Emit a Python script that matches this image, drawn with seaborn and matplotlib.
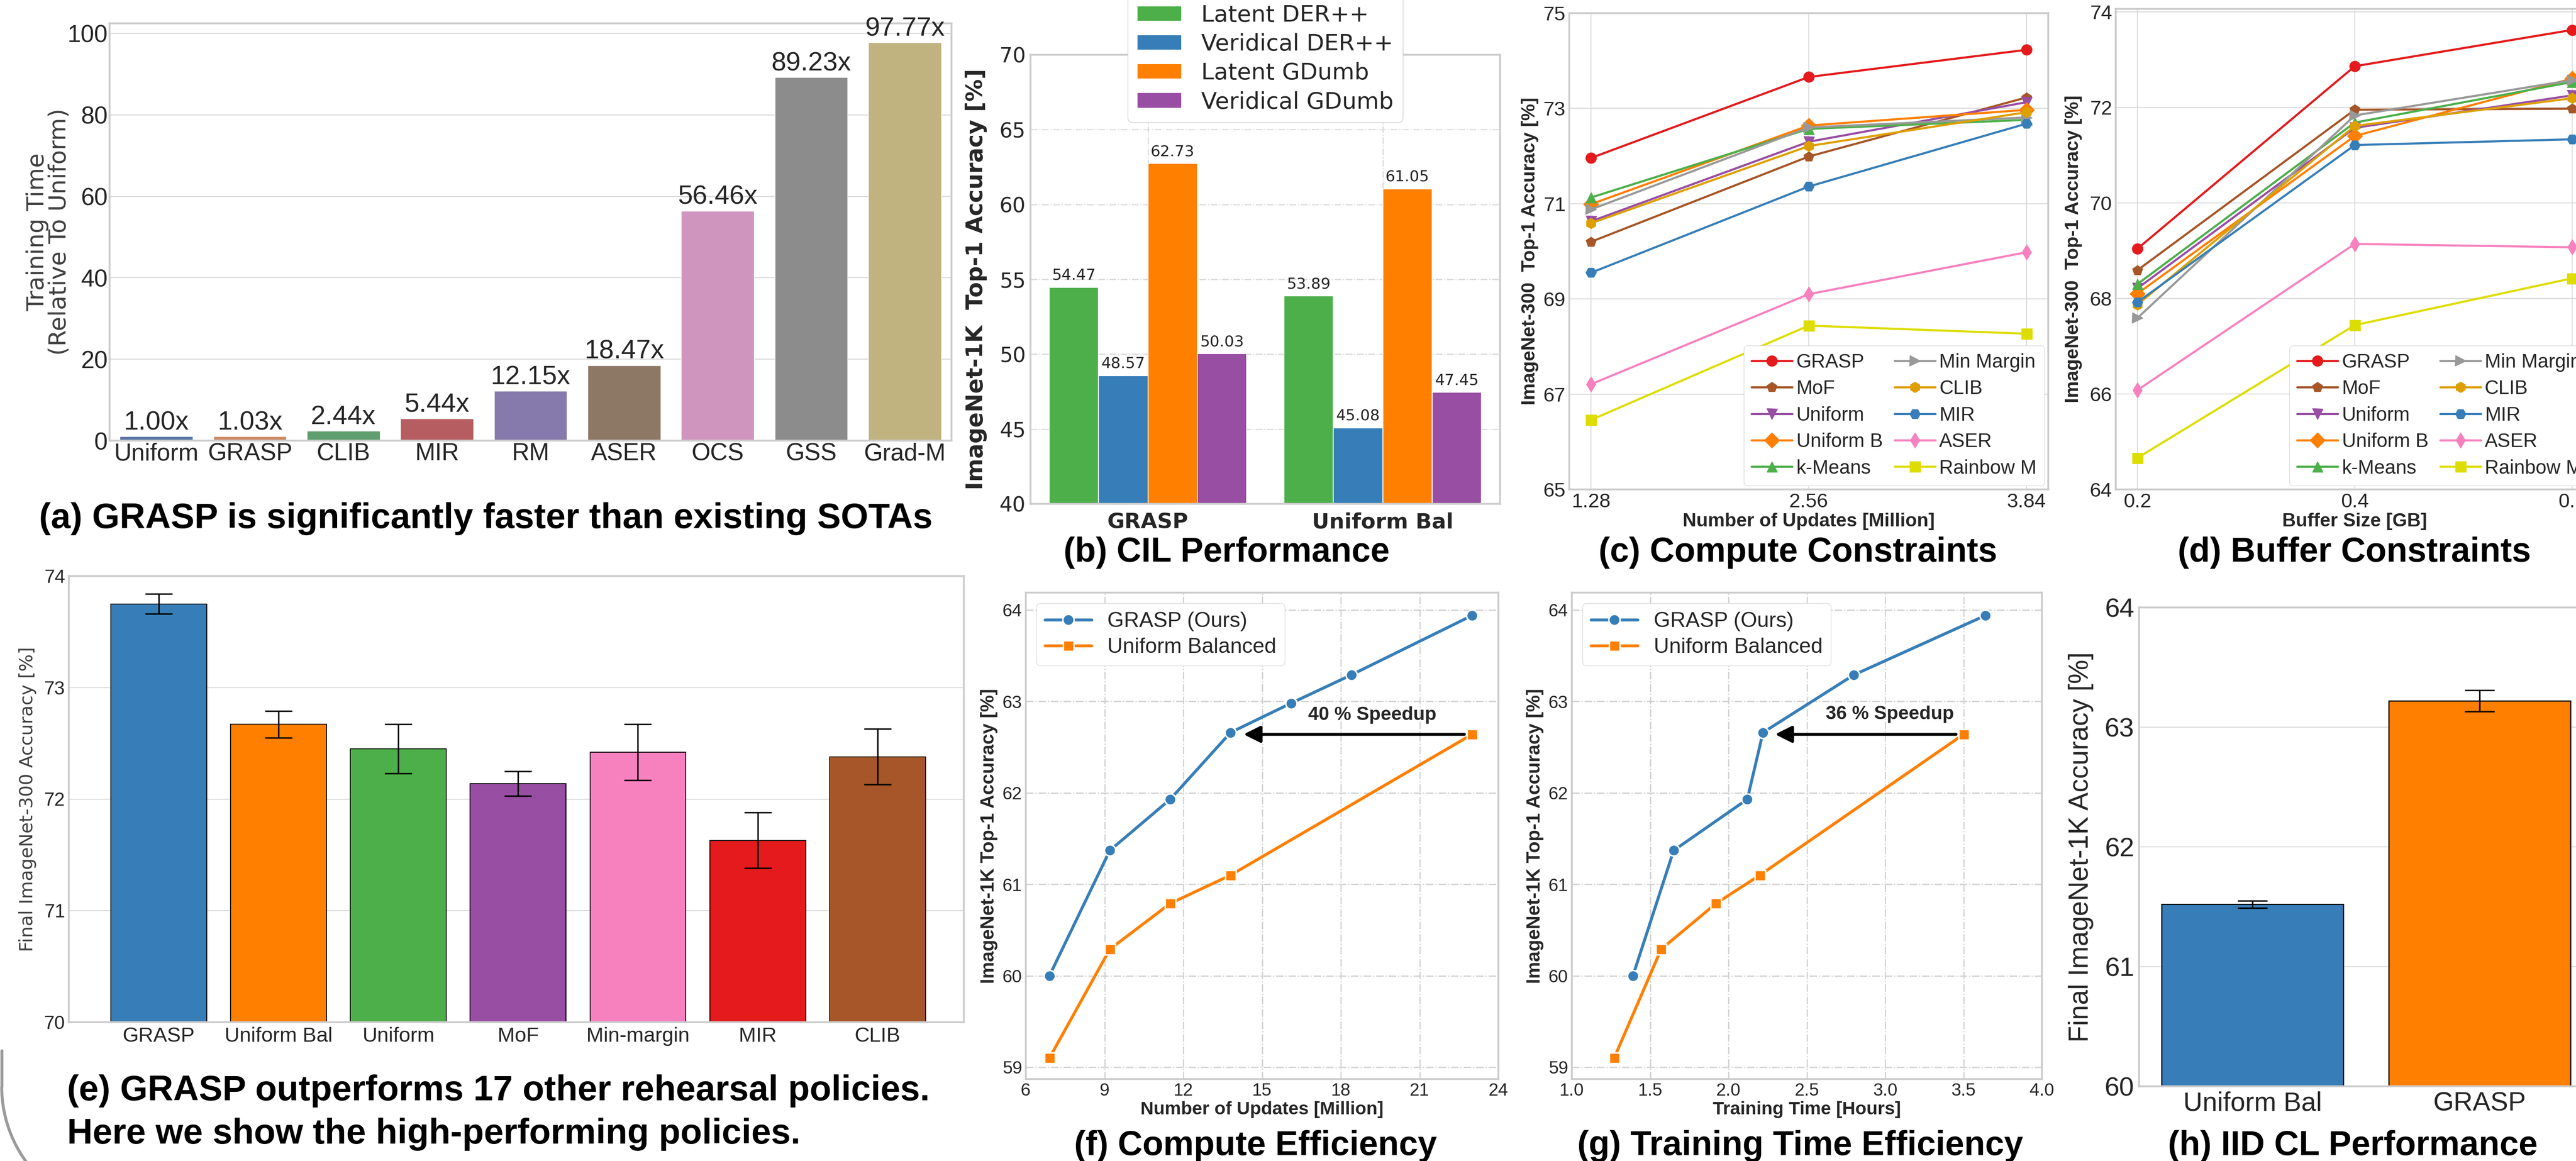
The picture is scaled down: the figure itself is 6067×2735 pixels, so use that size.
import numpy as np
import pandas as pd
import matplotlib
matplotlib.use("Agg")
import matplotlib.pyplot as plt
import seaborn as sns
from matplotlib.patches import Arc
from matplotlib.transforms import IdentityTransform

W, H = 6067, 2735

# ---------------- DATA ----------------
# (a) training time relative to uniform
speed_methods = ["Uniform", "GRASP", "CLIB", "MIR", "RM", "ASER", "OCS", "GSS", "Grad-M"]
speed_values = [1.00, 1.03, 2.44, 5.44, 12.15, 18.47, 56.46, 89.23, 97.77]

# (b) class incremental learning
cil_groups = ["GRASP", "Uniform Bal"]
cil_series = ["Latent DER++", "Veridical DER++", "Latent GDumb", "Veridical GDumb"]
cil_grasp = [54.47, 48.57, 62.73, 50.03]
cil_uniform = [53.89, 45.08, 61.05, 47.45]

# (c) / (d) rehearsal policies
policies = ["GRASP", "MoF", "Uniform", "Uniform B", "k-Means",
            "Min Margin", "CLIB", "MIR", "ASER", "Rainbow M"]
updates = [1.28, 2.56, 3.84]
compute_acc = [
    [71.96, 73.66, 74.23],
    [70.20, 71.99, 73.23],
    [70.63, 72.30, 73.13],
    [70.99, 72.64, 72.97],
    [71.13, 72.57, 72.76],
    [70.88, 72.60, 72.81],
    [70.59, 72.21, 72.92],
    [69.55, 71.36, 72.68],
    [67.21, 69.10, 69.98],
    [66.46, 68.44, 68.27],
]
buffer_gb = [0.2, 0.4, 0.6]
buffer_acc = [
    [69.04, 72.86, 73.62],
    [68.59, 71.95, 71.97],
    [68.21, 71.57, 72.25],
    [68.10, 71.40, 72.60],
    [68.30, 71.68, 72.53],
    [67.59, 71.83, 72.57],
    [67.87, 71.61, 72.19],
    [67.92, 71.21, 71.33],
    [66.08, 69.14, 69.07],
    [64.66, 67.44, 68.42],
]

# (e) final accuracy of high-performing policies
e_policies = ["GRASP", "Uniform Bal", "Uniform", "MoF", "Min-margin", "MIR", "CLIB"]
e_acc = [73.75, 72.67, 72.45, 72.14, 72.42, 71.63, 72.38]
e_err = [0.09, 0.12, 0.22, 0.11, 0.25, 0.25, 0.25]

# (f) compute efficiency
f_grasp_updates = [6.9, 9.2, 11.5, 13.8, 16.1, 18.4, 23.0]
f_grasp_acc = [60.00, 61.37, 61.93, 62.66, 62.98, 63.29, 63.94]
f_unif_updates = [6.9, 9.2, 11.5, 13.8, 23.0]
f_unif_acc = [59.10, 60.29, 60.79, 61.10, 62.64]

# (g) training time efficiency
g_grasp_hours = [1.39, 1.65, 2.12, 2.22, 2.80, 3.64]
g_grasp_acc = [60.00, 61.37, 61.93, 62.66, 63.29, 63.94]
g_unif_hours = [1.27, 1.57, 1.92, 2.20, 3.50]
g_unif_acc = [59.10, 60.29, 60.79, 61.10, 62.64]

# (h) iid CL
h_policies = ["Uniform Bal", "GRASP"]
h_acc = [61.52, 63.22]
h_err = [0.03, 0.09]

# ---------------- STYLE ----------------
SET1 = ["#4daf4a", "#377eb8", "#ff7f00", "#984ea3"]
policy_colors = ["#e41a1c", "#a65628", "#984ea3", "#ff7f00", "#4daf4a",
                 "#999999", "#dea000", "#377eb8", "#f781bf", "#dddd00"]
policy_markers = ["o", "p", "v", "D", "^", ">", "h", "H", "d", "s"]
e_colors = ["#377eb8", "#ff7f00", "#4daf4a", "#984ea3", "#f781bf", "#e41a1c", "#a65628"]

sns.set_style("whitegrid", {"axes.edgecolor": ".8", "grid.color": ".85"})
plt.rcParams["font.family"] = ["Liberation Sans", "DejaVu Sans"]
plt.rcParams["axes.linewidth"] = 3.2
plt.rcParams["grid.linewidth"] = 1.6

ARIAL = "Liberation Sans"
DEJAVU = "DejaVu Sans"

fig = plt.figure(figsize=(W / 100, H / 100), dpi=100)


def box(l, t, r, b):
    # axes from pixel edges of the full-size picture
    return fig.add_axes([l / W, 1 - b / H, (r - l) / W, (b - t) / H])


def ticks(ax, size, family, pad=6):
    ax.tick_params(axis="both", labelsize=size, labelfontfamily=family,
                   pad=pad, length=0, labelcolor=".15")


def title(x, y, text, size=58, ha="center"):
    fig.text(x / W, 1 - y / H, text, ha=ha, va="center", fontsize=size,
             fontweight="bold", family=ARIAL, color="black")


# ---------------- (a) ----------------
ax = box(258, 55, 2241, 1038)
sns.barplot(x=speed_methods, y=speed_values, hue=speed_methods, palette="deep",
            legend=False, width=0.78, ax=ax)
ax.set_ylim(0, 102.5)
ax.grid(axis="x", visible=False)
for i, v in enumerate(speed_values):
    ax.text(i, v + 0.3, f"{v:.2f}x", ha="center", va="bottom", fontsize=45,
            family=ARIAL, color=".15")
ax.set_ylabel("Training Time\n(Relative To Uniform)", family=DEJAVU, fontsize=40,
              color=".25", linespacing=0.95)
ax.yaxis.set_label_coords(-0.046, 0.5)
ax.set_xlabel("")
ticks(ax, 41, ARIAL, pad=3)
title(1144, 1222, "(a) GRASP is significantly faster than existing SOTAs", 60)

# ---------------- (b) ----------------
ax = box(2427, 129, 3533, 1187)
df_b = pd.DataFrame({
    "group": np.repeat(cil_groups, len(cil_series)),
    "series": cil_series * 2,
    "acc": cil_grasp + cil_uniform,
})
sns.barplot(data=df_b, x="group", y="acc", hue="series", palette=SET1,
            saturation=1, width=0.84, edgecolor="white", linewidth=1.5, ax=ax)
ax.set_ylim(40, 70)
ax.grid(True, linestyle="-.", color=".85", linewidth=1.8)
for cont in ax.containers:
    ax.bar_label(cont, fmt="%.2f", fontsize=26, padding=8, family=DEJAVU, color=".15")
ax.set_xlabel("")
ax.set_ylabel("ImageNet-1K  Top-1 Accuracy [%]", family=DEJAVU, fontweight="bold",
              fontsize=38, color=".15")
ax.yaxis.set_label_coords(-0.092, 0.5)
ticks(ax, 35, DEJAVU, pad=8)
ax.tick_params(axis="x", pad=14)
for lab in ax.get_xticklabels():
    lab.set_fontweight("bold")
    lab.set_fontsize(36)
ax.legend(loc="lower center", bbox_to_anchor=(0.5, 0.824),
          prop={"family": DEJAVU, "size": 39}, frameon=True, edgecolor=".8",
          framealpha=1, handlelength=1.95, handleheight=0.65, handletextpad=0.85,
          labelspacing=0.3, borderpad=0.4)
title(2889, 1302, "(b) CIL Performance")

# ---------------- (c) & (d) ----------------
def policy_panel(ax, xs, table, ylim, yticks, xlabel, ylab_x):
    for name, vals, col, mk in zip(policies, table, policy_colors, policy_markers):
        sns.lineplot(x=xs, y=vals, color=col, marker=mk, markersize=18, linewidth=3.6,
                     markeredgecolor=col, markeredgewidth=1, label=name, ax=ax)
    ax.set_ylim(*ylim)
    ax.set_yticks(yticks)
    ax.set_xticks(xs)
    ax.set_xticklabels([f"{x:g}" for x in xs])
    ax.set_xlabel(xlabel, fontweight="bold", fontsize=32, color=".15")
    ax.xaxis.set_label_coords(0.5, -0.049)
    ax.set_ylabel("ImageNet-300  Top-1 Accuracy [%]", fontweight="bold", fontsize=32,
                  color=".15")
    ax.yaxis.set_label_coords(ylab_x, 0.5)
    ticks(ax, 34, ARIAL, pad=6)
    ax.legend(loc="lower right", ncol=2, prop={"family": ARIAL, "size": 33},
              frameon=True, edgecolor=".85", framealpha=1, handlelength=2.1,
              handletextpad=0.2, columnspacing=0.6, labelspacing=0.4, borderpad=0.4,
              borderaxespad=0.2)


ax = box(3696, 31, 4824, 1153)
policy_panel(ax, updates, compute_acc, (65, 75), [65, 67, 69, 71, 73, 75],
             "Number of Updates [Million]", -0.064)
ax.set_xlim(1.152, 3.968)
title(4234, 1302, "(c) Compute Constraints")

ax = box(4983, 21, 6109, 1153)
policy_panel(ax, buffer_gb, buffer_acc, (64, 74.06), [64, 66, 68, 70, 72, 74],
             "Buffer Size [GB]", -0.070)
ax.set_xlim(0.18, 0.62)
title(5545, 1302, "(d) Buffer Constraints")

# ---------------- (e) ----------------
ax = box(162, 1357, 2270, 2408)
sns.barplot(x=e_policies, y=e_acc, hue=e_policies, palette=e_colors, saturation=1,
            edgecolor="black", linewidth=1.5, width=0.8, legend=False, ax=ax)
ax.errorbar(range(len(e_acc)), e_acc, yerr=e_err, fmt="none", ecolor="black",
            elinewidth=2.5, capsize=23, capthick=2.5)
ax.set_ylim(70, 74)
ax.set_yticks([70, 71, 72, 73, 74])
ax.set_xlim(-0.75, 6.72)
ax.set_ylabel("Final ImageNet-300 Accuracy [%]", family=DEJAVU, fontsize=31,
              color=".25")
ax.yaxis.set_label_coords(-0.036, 0.5)
ticks(ax, 32, ARIAL, pad=6)
ax.tick_params(axis="x", labelsize=35, pad=8)
title(158, 2570, "(e) GRASP outperforms 17 other rehearsal policies.", 60, ha="left")
title(158, 2672, "Here we show the high-performing policies.", 60, ha="left")

# ---------------- (f) & (g) ----------------
def efficiency_panel(ax, gx, gy, ux, uy, xlabel, ylab_x):
    sns.lineplot(x=gx, y=gy, color="#377eb8", marker="o", markersize=19, linewidth=5,
                 markeredgecolor="white", markeredgewidth=2.5, label="GRASP (Ours)", ax=ax)
    sns.lineplot(x=ux, y=uy, color="#ff7f00", marker="s", markersize=18, linewidth=5,
                 markeredgecolor="white", markeredgewidth=2.5, label="Uniform Balanced", ax=ax)
    ax.grid(True, linestyle="-.", color=".82", linewidth=2)
    ax.set_ylim(58.87, 64.19)
    ax.set_yticks([59, 60, 61, 62, 63, 64])
    ax.set_xlabel(xlabel, fontweight="bold", fontsize=31, color=".15")
    ax.xaxis.set_label_coords(0.5, -0.045)
    ax.set_ylabel("ImageNet-1K Top-1 Accuracy [%]", fontweight="bold", fontsize=32,
                  color=".15")
    ax.yaxis.set_label_coords(ylab_x, 0.5)
    ticks(ax, 30, ARIAL, pad=6)
    ax.legend(loc="upper left", prop={"family": ARIAL, "size": 36}, frameon=True,
              edgecolor=".85", framealpha=1, handlelength=2.2, handletextpad=0.75,
              labelspacing=0.3, borderpad=0.4)


ax = box(2416, 1396, 3529, 2542)
efficiency_panel(ax, f_grasp_updates, f_grasp_acc, f_unif_updates, f_unif_acc,
                 "Number of Updates [Million]", -0.059)
ax.set_xlim(6, 24)
ax.set_xticks([6, 9, 12, 15, 18, 21, 24])
ax.annotate("", xy=(14.25, f_unif_acc[-1]), xytext=(22.75, f_unif_acc[-1]),
            arrowprops=dict(arrowstyle="-|>,head_length=0.8,head_width=0.4",
                            color="black", lw=5, mutation_scale=30))
ax.text(19.2, 62.85, "40 % Speedup", ha="center", va="center", fontsize=32,
        fontweight="bold", family=ARIAL)
title(2957, 2700, "(f) Compute Efficiency")

ax = box(3702, 1396, 4809, 2542)
efficiency_panel(ax, g_grasp_hours, g_grasp_acc, g_unif_hours, g_unif_acc,
                 "Training Time [Hours]", -0.060)
ax.set_xlim(1.0, 4.0)
ax.set_xticks([1.0, 1.5, 2.0, 2.5, 3.0, 3.5, 4.0])
ax.set_xticklabels(["1.0", "1.5", "2.0", "2.5", "3.0", "3.5", "4.0"])
ax.annotate("", xy=(2.29, g_unif_acc[-1]), xytext=(3.46, g_unif_acc[-1]),
            arrowprops=dict(arrowstyle="-|>,head_length=0.8,head_width=0.4",
                            color="black", lw=5, mutation_scale=30))
ax.text(3.03, 62.86, "36 % Speedup", ha="center", va="center", fontsize=32,
        fontweight="bold", family=ARIAL)
title(4240, 2700, "(g) Training Time Efficiency")

# ---------------- (h) ----------------
ax = box(5038, 1431, 6107, 2559)
sns.barplot(x=h_policies, y=h_acc, hue=h_policies, palette=["#377eb8", "#ff7f00"],
            saturation=1, edgecolor="black", linewidth=2, width=0.8, legend=False, ax=ax)
ax.errorbar(range(len(h_acc)), h_acc, yerr=h_err, fmt="none", ecolor="black",
            elinewidth=2.5, capsize=25, capthick=2.5)
ax.set_ylim(60, 64)
ax.set_yticks([60, 61, 62, 63, 64])
ax.set_xlim(-0.5, 1.5)
ax.set_ylabel("Final ImageNet-1K Accuracy [%]", family=ARIAL, fontsize=46,
              color=".15")
ax.yaxis.set_label_coords(-0.100, 0.5)
ticks(ax, 45, ARIAL, pad=8)
title(5541, 2700, "(h) IID CL Performance")

# rounded corner of the page frame, bottom left
corner = Arc((304, 175), 600, 600, theta1=180, theta2=270, color="#9a9a9a", lw=5,
             transform=IdentityTransform())
fig.add_artist(corner)
fig.add_artist(plt.Line2D([4, 4], [175, 260], color="#9a9a9a", lw=5,
                          transform=IdentityTransform()))

fig.savefig("out.png", dpi=100)
